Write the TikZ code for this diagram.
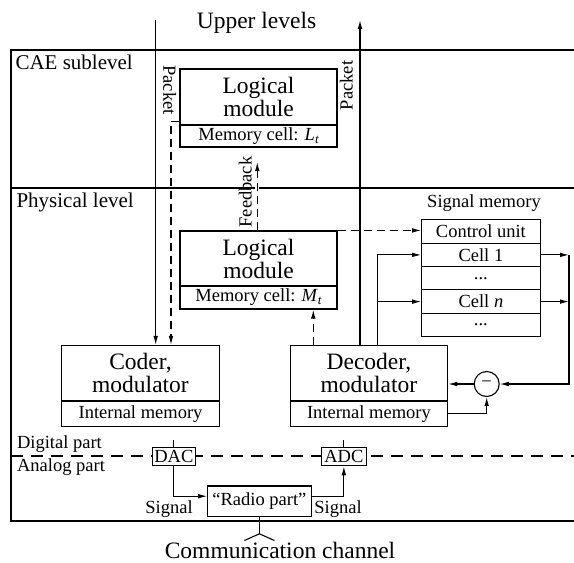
\documentclass[tikz,border=0pt]{standalone}
\usepackage{fontspec}
\setmainfont{Liberation Serif}
\usetikzlibrary{arrows.meta,calc}

\newcommand\fsBig{\fontsize{23.5}{23}\selectfont}
\newcommand\fsMid{\fontsize{21}{22}\selectfont}
\newcommand\fsSmall{\fontsize{18.5}{20}\selectfont}
\newcommand\subT{\raisebox{-0.35ex}{\fontsize{13}{13}\selectfont\itshape t}}

\begin{document}
\begin{tikzpicture}[x=1pt,y=-1pt,
  line width=1.1pt,
  >={Latex[length=9pt,width=4.6pt]},
  box/.style={draw, inner sep=0pt, align=center, minimum width=157pt},
  headbox/.style={box, font=\fsBig, minimum height=56pt},
  membox/.style={box, font=\fsSmall, minimum height=22pt},
  cellbox/.style={draw, inner sep=0pt, font=\fsSmall, minimum width=118.3pt, minimum height=23.33pt},
  convbox/.style={draw, fill=white, inner sep=0pt, font=\fsSmall, minimum width=42.3pt, minimum height=18.4pt},
  lbl/.style={inner sep=0pt, font=\fsSmall},
  levellbl/.style={inner sep=0pt, font=\fsMid, anchor=base west},
  dsh/.style={dash pattern=on 8pt off 5pt},
]
\useasboundingbox (0,0) rectangle (574,563);

% frame, level separator and digital/analog border
\draw[line width=1.2pt] (576,50) -- (11,50) -- (11,521) -- (576,521);
\draw[line width=1.8pt] (11,188) -- (576,188);
\draw[line width=1.8pt, dash pattern=on 12pt off 8pt] (11,456) -- (576,456);
\fill[white] (255.3,185) rectangle (259.3,191);

% level labels
\node[levellbl] (cae) at (15,69) {CAE sublevel};
\node[levellbl] (phys) at (16,207) {Physical level};
\node[lbl, anchor=base west] (dig) at (16.5,448) {Digital part};
\node[lbl, anchor=base west] (ana) at (16.5,471) {Analog part};
\node[inner sep=0pt, font=\fsBig, anchor=base] (upper) at (256.5,28) {Upper levels};
\node[inner sep=0pt, font=\fsBig, anchor=base] (chan) at (280,558.5) {Communication channel};

% logical modules
\node[headbox] (Lhead) at (258.5,97) {Logical\\module};
\node[membox] (Lmem) at (258.5,136) {Memory cell: \textit{L}\subT};
\node[headbox, minimum height=55pt] (Mhead) at (258.5,258.5) {Logical\\module};
\node[membox, minimum height=23pt] (Mmem) at (258.5,297.5) {Memory cell: \textit{M}\subT};

% coder and decoder
\node[headbox, minimum width=157.6pt, minimum height=55.2pt] (Chead) at (140.5,373.1) {Coder,\\modulator};
\node[membox, minimum width=157.6pt, minimum height=26pt] (Cmem) at (140.5,413.7) {Internal memory};
\node[headbox, minimum width=157.6pt, minimum height=55.2pt] (Dhead) at (368.9,373.1) {Decoder,\\modulator};
\node[membox, minimum width=157.6pt, minimum height=26pt] (Dmem) at (368.9,413.7) {Internal memory};
\draw[line width=2.2pt] (Chead.south west) -- (Chead.south east);
\draw[line width=2.2pt] (Dhead.south west) -- (Dhead.south east);

% signal memory
\node[lbl, anchor=base] (sigmem) at (484,207) {Signal memory};
\node[cellbox] (ctrl) at (480.9,231.5) {Control unit};
\node[cellbox] (cell1) at (480.9,254.9) {Cell 1};
\node[cellbox] (dots1) at (480.9,278.2) {...};
\node[cellbox] (celln) at (480.9,301.6) {Cell \textit{n}};
\node[cellbox] (dots2) at (480.9,324.9) {...};

% subtractor
\node[draw, circle, minimum size=25pt, inner sep=0pt, font=\fsSmall] (minus) at (486.7,384) {−};

% converters and radio part
\node[convbox] (dac) at (173.9,456.5) {DAC};
\node[convbox, minimum width=44.3pt] (adc) at (343.9,456.5) {ADC};
\node[draw, inner sep=0pt, font=\fsSmall, minimum width=103.3pt, minimum height=30.5pt] (radio) at (259.4,501.2) {“Radio part”};
\node[lbl, anchor=base] (sigL) at (169,513) {Signal};
\node[lbl, anchor=base] (sigR) at (338,513) {Signal};

% rotated connector labels
\node[lbl, rotate=-90, anchor=base] (pkL) at (163.3,90) {Packet};
\node[lbl, rotate=90, anchor=base] (pkR) at (352.7,85.5) {Packet};
\node[lbl, rotate=90, anchor=base] (fbl) at (251.7,192) {Feedback};

% packets from and to the upper levels
\coordinate (inTop) at (155.7,20);
\draw[->] (inTop) -- (inTop |- Chead.north);
\coordinate (pk) at (171,121.7);
\draw[dsh,->] (pk -| Lhead.west) -- (pk) -- (pk |- Chead.north);
\coordinate (outTop) at (360,20);
\draw[->] (outTop |- Dhead.north) -- (outTop);

% feedback paths
\coordinate (fb) at (257.3,162);
\draw[dsh,->] (fb |- Mhead.north) -- (fb);
\coordinate (dm) at (313.3,0);
\draw[dsh,->] (dm |- Dhead.north) -- (dm |- Mmem.south);
\draw[dsh,->] (Mhead.north east) -- (Mhead.north east -| ctrl.west);

% decoder to signal memory and back
\coordinate (br) at (377.3,0);
\draw[->] (br |- Dhead.north) |- (cell1.west);
\draw[->] (br |- celln.west) -- (celln.west);
\coordinate (bus) at (569,384);
\draw[->] (cell1.east) -- (cell1.east -| bus);
\draw[->] (celln.east) -- (celln.east -| bus);
\draw[->] (cell1.east -| bus) -- (bus) -- (minus.east);
\draw[->] (minus.west) -- (minus.west -| Dhead.east);
\draw[->] (Dmem.east) -| (minus.south);

% analog part
\draw (dac.north) -- ++(0,-6.6);
\draw (adc.north) -- ++(0,-6.6);
\draw[->] (dac.south) |- ([yshift=5pt]radio.west);
\draw[->] ([yshift=5pt]radio.east) -| (adc.south);
\draw (radio.south) -- ++(0,16.8) coordinate (ant);
\draw ($(ant)+(-15,6.7)$) -- (ant) -- ($(ant)+(15,6.7)$);
\end{tikzpicture}
\end{document}
